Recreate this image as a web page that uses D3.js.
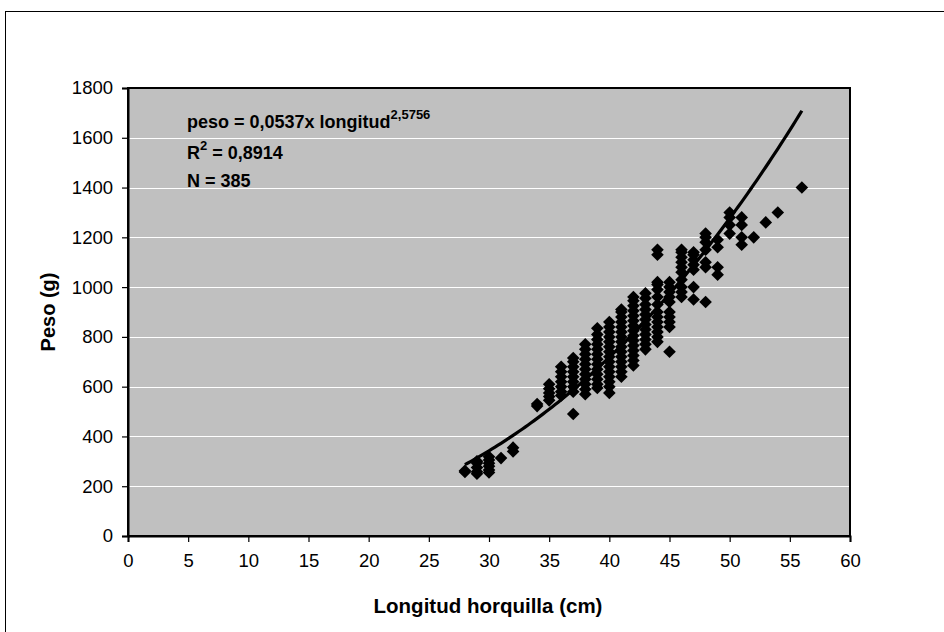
<!DOCTYPE html>
<html>
<head>
<meta charset="utf-8">
<script src="https://cdn.jsdelivr.net/npm/d3@7"></script>
<style>
  html, body { margin: 0; padding: 0; background: #fff; }
  svg { display: block; font-family: "Liberation Sans", Arial, sans-serif; }
</style>
</head>
<body>
<svg id="chart" width="944" height="632"></svg>
<script>
// ---- data ----
const xTicks = [0, 5, 10, 15, 20, 25, 30, 35, 40, 45, 50, 55, 60];
const yTicks = [0, 200, 400, 600, 800, 1000, 1200, 1400, 1600, 1800];

// fork length (cm) of each fish and its weight (g)
const lengths = [
  28, 28,
  29, 29, 29, 29, 29,
  30, 30, 30, 30, 30, 30,
  31,
  32, 32,
  34, 34,
  35, 35, 35, 35, 35,
  36, 36, 36, 36, 36, 36, 36,
  37, 37, 37, 37, 37, 37, 37, 37, 37,
  38, 38, 38, 38, 38, 38, 38, 38, 38, 38, 38,
  39, 39, 39, 39, 39, 39, 39, 39, 39, 39, 39, 39, 39,
  40, 40, 40, 40, 40, 40, 40, 40, 40, 40, 40, 40, 40, 40, 40,
  41, 41, 41, 41, 41, 41, 41, 41, 41, 41, 41, 41, 41, 41, 41,
  42, 42, 42, 42, 42, 42, 42, 42, 42, 42, 42, 42, 42, 42, 42,
  43, 43, 43, 43, 43, 43, 43, 43, 43, 43, 43, 43,
  44, 44, 44, 44, 44, 44, 44, 44, 44, 44, 44, 44, 44, 44,
  45, 45, 45, 45, 45, 45, 45, 45, 45, 45,
  46, 46, 46, 46, 46, 46, 46, 46, 46, 46,
  47, 47, 47, 47, 47, 47, 47,
  48, 48, 48, 48, 48, 48, 48,
  49, 49, 49, 49,
  50, 50, 50, 50,
  51, 51, 51, 51,
  52, 53, 54, 56
];
const weights = [
  257, 262,
  250, 258, 275, 293, 300,
  255, 265, 280, 292, 305, 318,
  313,
  340, 355,
  522, 530,
  545, 560, 575, 592, 610,
  565, 580, 600, 620, 640, 660, 680,
  490, 580, 600, 620, 640, 660, 680, 700, 715,
  570, 590, 610, 630, 650, 670, 690, 710, 730, 750, 770,
  595, 610, 630, 650, 670, 690, 710, 730, 750, 770, 790, 810, 835,
  575, 600, 620, 640, 660, 680, 700, 720, 740, 760, 780, 800, 820, 840, 860,
  640, 660, 680, 700, 720, 740, 760, 780, 800, 820, 840, 860, 880, 900, 910,
  685, 705, 725, 745, 765, 785, 805, 825, 845, 865, 885, 905, 925, 945, 960,
  750, 770, 790, 810, 830, 850, 870, 890, 910, 930, 955, 975,
  780, 800, 820, 840, 860, 880, 900, 930, 960, 990, 1010, 1020, 1130, 1150,
  740, 840, 860, 880, 900, 940, 960, 980, 1000, 1020,
  960, 980, 1000, 1030, 1060, 1080, 1100, 1120, 1140, 1150,
  950, 1000, 1070, 1090, 1110, 1130, 1140,
  940, 1080, 1100, 1150, 1180, 1200, 1215,
  1050, 1080, 1160, 1190,
  1215, 1250, 1280, 1300,
  1170, 1200, 1250, 1280,
  1200, 1260, 1300, 1400
];

// power trendline shown on the chart: peso = 0,0537 x longitud^2,5756
const trendA = 0.0537;
const trendB = 2.5756;
const trendRange = [28, 56];

// ---- layout ----
const svg = d3.select("#chart");
const plot = { left: 128, right: 850, top: 88, bottom: 536 };

const x = d3.scaleLinear().domain([0, 60]).range([plot.left, plot.right]);
const y = d3.scaleLinear().domain([0, 1800]).range([plot.bottom, plot.top]);

// chart area frame
svg.append("rect")
  .attr("x", 5.5).attr("y", 11.5)
  .attr("width", 1000).attr("height", 1000)
  .attr("fill", "#fff").attr("stroke", "#000").attr("stroke-width", 1);

// plot area
svg.append("rect")
  .attr("x", plot.left).attr("y", plot.top)
  .attr("width", plot.right - plot.left).attr("height", plot.bottom - plot.top)
  .attr("fill", "#C0C0C0");

// gridlines
svg.append("g")
  .selectAll("line")
  .data(yTicks.filter(d => d > 0 && d < 1800))
  .join("line")
  .attr("x1", plot.left).attr("x2", plot.right)
  .attr("y1", d => Math.round(y(d)) + 0.5).attr("y2", d => Math.round(y(d)) + 0.5)
  .attr("stroke", "#fff").attr("stroke-width", 1);

// plot border (top/right)
svg.append("rect")
  .attr("x", plot.left).attr("y", plot.top)
  .attr("width", plot.right - plot.left).attr("height", plot.bottom - plot.top)
  .attr("fill", "none").attr("stroke", "#000").attr("stroke-width", 2);

// axes
const xAxis = d3.axisBottom(x).tickValues(xTicks).tickSize(6).tickPadding(12).tickFormat(d3.format("d"));
const yAxis = d3.axisLeft(y).tickValues(yTicks).tickSize(6).tickPadding(9).tickFormat(d3.format("d"));

const gx = svg.append("g").attr("transform", `translate(0,${plot.bottom})`).call(xAxis);
const gy = svg.append("g").attr("transform", `translate(${plot.left},0)`).call(yAxis);
[gx, gy].forEach(g => {
  g.select(".domain").attr("stroke", "#000").attr("stroke-width", 2);
  g.selectAll(".tick line").attr("stroke", "#000").attr("stroke-width", 1.2);
  g.selectAll(".tick text").attr("fill", "#000").attr("font-size", 18.5)
    .attr("font-family", "Liberation Sans, Arial, sans-serif");
});

// scatter points (diamonds)
const points = lengths.map((l, i) => ({ l, w: weights[i] }));
const r = 6.3;
svg.append("g")
  .selectAll("path")
  .data(points)
  .join("path")
  .attr("d", d => {
    const cx = x(d.l), cy = y(d.w);
    return `M${cx},${cy - r}L${cx + r},${cy}L${cx},${cy + r}L${cx - r},${cy}Z`;
  })
  .attr("fill", "#000");

// trendline
const trendPts = d3.range(trendRange[0], trendRange[1] + 0.001, 0.25)
  .map(l => ({ l, w: trendA * Math.pow(l, trendB) }));
svg.append("path")
  .datum(trendPts)
  .attr("d", d3.line().x(d => x(d.l)).y(d => y(d.w)))
  .attr("fill", "none").attr("stroke", "#000").attr("stroke-width", 3.2);

// annotation
const ann = svg.append("g").attr("font-weight", "bold").attr("fill", "#000")
  .attr("font-size", 18);
const t1 = ann.append("text").attr("x", 187).attr("y", 128);
t1.append("tspan").text("peso = 0,0537x longitud");
t1.append("tspan").attr("dy", -9).attr("font-size", 13).text("2,5756");
const t2 = ann.append("text").attr("x", 187).attr("y", 159);
t2.append("tspan").text("R");
t2.append("tspan").attr("dy", -9).attr("font-size", 13).text("2");
t2.append("tspan").attr("dy", 9).text(" = 0,8914");
ann.append("text").attr("x", 187).attr("y", 187).text("N = 385");

// axis titles
svg.append("text")
  .attr("x", (plot.left + plot.right) / 2 - 1).attr("y", 613)
  .attr("text-anchor", "middle").attr("font-weight", "bold").attr("font-size", 20.5)
  .text("Longitud horquilla (cm)");
svg.append("text")
  .attr("transform", `translate(55,${(plot.top + plot.bottom) / 2}) rotate(-90)`)
  .attr("text-anchor", "middle").attr("font-weight", "bold").attr("font-size", 20)
  .text("Peso (g)");
</script>
</body>
</html>
